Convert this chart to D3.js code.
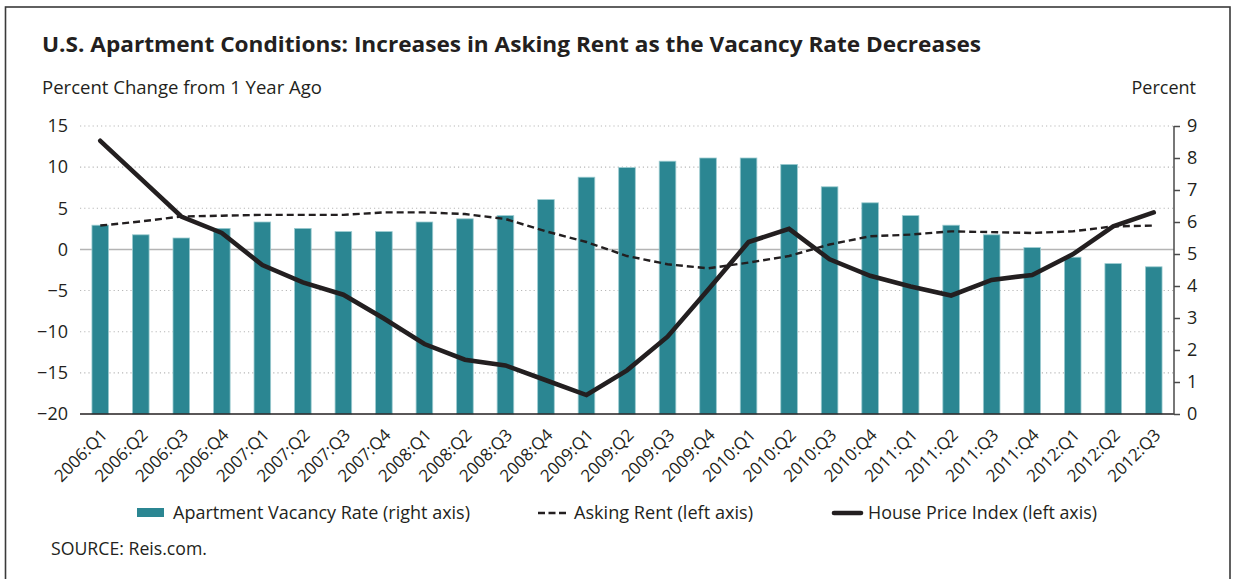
<!DOCTYPE html>
<html>
<head>
<meta charset="utf-8">
<script src="https://cdn.jsdelivr.net/npm/d3@7"></script>
<style>
  html, body { margin: 0; padding: 0; background: #fff; }
  svg { display: block; font-family: "Open Sans", "Noto Sans", sans-serif; }
</style>
</head>
<body>
<svg id="chart" width="1233" height="579"></svg>
<script>
const quarters = ["2006:Q1","2006:Q2","2006:Q3","2006:Q4","2007:Q1","2007:Q2","2007:Q3","2007:Q4",
  "2008:Q1","2008:Q2","2008:Q3","2008:Q4","2009:Q1","2009:Q2","2009:Q3","2009:Q4",
  "2010:Q1","2010:Q2","2010:Q3","2010:Q4","2011:Q1","2011:Q2","2011:Q3","2011:Q4",
  "2012:Q1","2012:Q2","2012:Q3"];
const vacancyRate = [5.9,5.6,5.5,5.8,6.0,5.8,5.7,5.7,6.0,6.1,6.2,6.7,7.4,7.7,7.9,8.0,8.0,7.8,7.1,6.6,6.2,5.9,5.6,5.2,4.9,4.7,4.6];
const askingRent = [2.9,3.4,4.0,4.1,4.2,4.2,4.2,4.5,4.5,4.3,3.7,2.2,0.9,-0.8,-1.8,-2.3,-1.6,-0.8,0.6,1.6,1.8,2.2,2.1,2.0,2.2,2.8,2.9];
const housePrice = [13.2,8.6,4.0,2.0,-1.9,-4.0,-5.5,-8.4,-11.5,-13.4,-14.1,-15.9,-17.7,-14.7,-10.6,-4.9,0.9,2.5,-1.2,-3.2,-4.5,-5.6,-3.7,-3.1,-0.6,2.8,4.5];
const leftTicks = [15,10,5,0,-5,-10,-15,-20];
const rightTicks = [0,1,2,3,4,5,6,7,8,9];

const title = "U.S. Apartment Conditions: Increases in Asking Rent as the Vacancy Rate Decreases";
const leftAxisTitle = "Percent Change from 1 Year Ago";
const rightAxisTitle = "Percent";
const legendLabels = ["Apartment Vacancy Rate (right axis)", "Asking Rent (left axis)", "House Price Index (left axis)"];
const sourceText = "SOURCE: Reis.com.";

const ink = "#231f20";
const teal = "#2b8692";

const svg = d3.select("#chart");

// frame
svg.append("rect").attr("x", 5.5).attr("y", 7).attr("width", 1224.5).attr("height", 620)
  .attr("fill", "none").attr("stroke", "#3a3a3a").attr("stroke-width", 1.6);

const L = 80, R = 1174, T = 126, B = 414;

const x = d3.scaleBand().domain(quarters).range([L, R]).paddingInner(0.59).paddingOuter(0.295);
const yL = d3.scaleLinear().domain([-20, 15]).range([B, T]);
const yR = d3.scaleLinear().domain([0, 9]).range([B, T]);

// title
svg.append("text").attr("x", 42).attr("y", 52).attr("fill", ink)
  .attr("font-size", 22).attr("font-weight", 700)
  .attr("textLength", 939).attr("lengthAdjust", "spacingAndGlyphs").text(title);

svg.append("text").attr("x", 42).attr("y", 94).attr("fill", ink).attr("font-size", 18)
  .attr("textLength", 280).attr("lengthAdjust", "spacingAndGlyphs").text(leftAxisTitle);
svg.append("text").attr("x", 1196).attr("y", 94).attr("fill", ink).attr("font-size", 18)
  .attr("text-anchor", "end").text(rightAxisTitle);

// gridlines
const grid = svg.append("g");
leftTicks.filter(v => v !== -20).forEach(v => {
  grid.append("line").attr("x1", L).attr("x2", R).attr("y1", yL(v)).attr("y2", yL(v))
    .attr("stroke", v === 0 ? "#b4b4b4" : "#b8b8b8")
    .attr("stroke-width", v === 0 ? 1.4 : 1.1)
    .attr("stroke-dasharray", v === 0 ? null : "1.2,3");
});

// left axis labels (no axis line)
const leftAxis = d3.axisLeft(yL).tickValues(leftTicks).tickSize(0).tickPadding(12)
  .tickFormat(d => d < 0 ? "\u2212" + Math.abs(d) : String(d));
const gL = svg.append("g").attr("transform", `translate(${L},0)`).call(leftAxis);
gL.select(".domain").remove();
gL.selectAll("text").attr("font-size", 18).attr("fill", ink).attr("font-family", "Open Sans");

// bars
svg.append("g").selectAll("rect").data(quarters).join("rect")
  .attr("x", d => x(d)).attr("width", x.bandwidth())
  .attr("y", (d, i) => yR(vacancyRate[i]))
  .attr("height", (d, i) => yR(0) - yR(vacancyRate[i]))
  .attr("fill", teal).attr("stroke", "#9ccbd0").attr("stroke-width", 0.8);

// bottom axis
svg.append("line").attr("x1", L).attr("x2", R).attr("y1", B).attr("y2", B)
  .attr("stroke", ink).attr("stroke-width", 1.6);

const gB = svg.append("g").attr("transform", `translate(0,${B})`)
  .call(d3.axisBottom(x).tickSize(0).tickPadding(0));
gB.select(".domain").remove();
gB.selectAll("text")
  .attr("font-size", 17).attr("fill", ink).attr("font-family", "Open Sans")
  .attr("text-anchor", "end").attr("dy", 0).attr("y", 0)
  .attr("transform", "translate(8,22) rotate(-45)");

// right axis
const rightAxis = d3.axisRight(yR).tickValues(rightTicks).tickSize(6).tickPadding(7);
const gR = svg.append("g").attr("transform", `translate(${R},0)`).call(rightAxis);
gR.select(".domain").attr("stroke", "#4a4a4a").attr("stroke-width", 1.5).attr("d", `M0,${T}V${B}`);
gR.selectAll(".tick line").attr("stroke", "#4a4a4a").attr("stroke-width", 1.5);
gR.selectAll("text").attr("font-size", 18).attr("fill", ink).attr("font-family", "Open Sans");

// lines
const cx = d => x(d) + x.bandwidth() / 2;
const rentLine = d3.line().x(d => cx(d)).y((d, i) => yL(askingRent[i]));
const hpiLine = d3.line().x(d => cx(d)).y((d, i) => yL(housePrice[i]));

svg.append("path").attr("d", rentLine(quarters)).attr("fill", "none")
  .attr("stroke", ink).attr("stroke-width", 2.4).attr("stroke-dasharray", "7,4");
svg.append("path").attr("d", hpiLine(quarters)).attr("fill", "none")
  .attr("stroke", ink).attr("stroke-width", 4.6).attr("stroke-linejoin", "miter").attr("stroke-linecap", "round");

// legend
const lg = svg.append("g");
lg.append("rect").attr("x", 137).attr("y", 508).attr("width", 27).attr("height", 9).attr("fill", teal);
lg.append("text").attr("x", 173).attr("y", 519).attr("font-size", 18).attr("fill", ink)
  .attr("textLength", 297).attr("lengthAdjust", "spacingAndGlyphs").text(legendLabels[0]);
lg.append("line").attr("x1", 538).attr("x2", 566).attr("y1", 513).attr("y2", 513)
  .attr("stroke", ink).attr("stroke-width", 2.4).attr("stroke-dasharray", "7,3.5");
lg.append("text").attr("x", 574).attr("y", 519).attr("font-size", 18).attr("fill", ink)
  .attr("textLength", 179).attr("lengthAdjust", "spacingAndGlyphs").text(legendLabels[1]);
lg.append("line").attr("x1", 834).attr("x2", 861).attr("y1", 513).attr("y2", 513)
  .attr("stroke", ink).attr("stroke-width", 4.6).attr("stroke-linecap", "round");
lg.append("text").attr("x", 868).attr("y", 519).attr("font-size", 18).attr("fill", ink)
  .attr("textLength", 229).attr("lengthAdjust", "spacingAndGlyphs").text(legendLabels[2]);

svg.append("text").attr("x", 51).attr("y", 555).attr("font-size", 18).attr("fill", ink)
  .attr("textLength", 156).attr("lengthAdjust", "spacingAndGlyphs").text(sourceText);
</script>
</body>
</html>
